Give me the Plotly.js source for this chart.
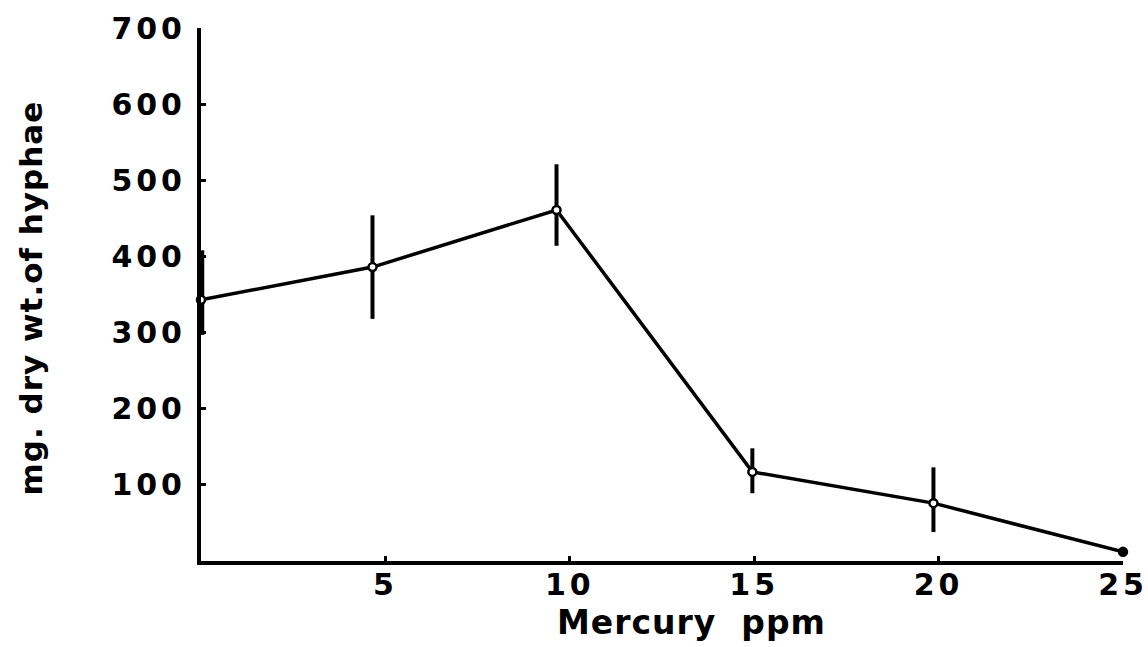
<!DOCTYPE html>
<html>
<head>
<meta charset="utf-8">
<script src="https://cdn.plot.ly/plotly-3.0.1.min.js"></script>
<style>
  html, body { margin: 0; padding: 0; background: #fff; }
  #chart { width: 1148px; height: 647px; }
  .xtick text, .ytick text { letter-spacing: 4px; }
  .annotation-text { letter-spacing: 1px; }
</style>
</head>
<body>
<div id="chart"></div>
<script>
// Mycelial growth against mercury concentration
const mercuryPpm = [0, 4.65, 9.64, 14.95, 19.86, 25];
const dryWeight  = [343, 386, 461, 117, 76, 12];
const errPlus    = [65, 68, 60, 31, 47, 0];
const errMinus   = [46, 68, 47, 28, 38, 0];
const xTickVals  = [5, 10, 15, 20, 25];
const yTickVals  = [100, 200, 300, 400, 500, 600, 700];
const xLabel = 'Mercury  ppm';
const yLabel = 'mg. dry wt.of hyphae';

const ink = '#000';
const font = 'DejaVu Sans, sans-serif';

// the bar at 0 ppm sits on the axis and is drawn heavier
const first = 1;
const traces = [
  {
    x: mercuryPpm.slice(0, first), y: dryWeight.slice(0, first),
    type: 'scatter', mode: 'markers', marker: {size: 1, opacity: 0},
    error_y: {type: 'data', symmetric: false,
      array: errPlus.slice(0, first), arrayminus: errMinus.slice(0, first),
      color: ink, thickness: 6.5, width: 0},
    cliponaxis: false, hoverinfo: 'skip', showlegend: false
  },
  {
    x: mercuryPpm.slice(first), y: dryWeight.slice(first),
    type: 'scatter', mode: 'markers', marker: {size: 1, opacity: 0},
    error_y: {type: 'data', symmetric: false,
      array: errPlus.slice(first), arrayminus: errMinus.slice(first),
      color: ink, thickness: 4, width: 0},
    cliponaxis: false, hoverinfo: 'skip', showlegend: false
  },
  {
    x: mercuryPpm, y: dryWeight,
    type: 'scatter', mode: 'lines+markers',
    line: {color: ink, width: 3.5},
    marker: {
      size: 8, symbol: 'circle',
      color: dryWeight.map((v, i) => i === dryWeight.length - 1 ? ink : '#fff'),
      line: {color: ink, width: 2.5}
    },
    cliponaxis: false, showlegend: false
  }
];

const layout = {
  width: 1148, height: 647,
  margin: {l: 201, r: 25, t: 28, b: 86},
  paper_bgcolor: '#fff', plot_bgcolor: '#fff',
  showlegend: false,
  font: {family: font, color: ink},
  xaxis: {
    range: [0, 25], tickvals: xTickVals, ticktext: xTickVals.map(String),
    showgrid: false, zeroline: false,
    showline: true, linecolor: ink, linewidth: 4,
    ticks: 'inside', ticklen: 5, tickwidth: 3, tickcolor: ink,
    tickfont: {family: font, size: 30, color: ink, weight: 'bold'},
    ticklabelstandoff: -6, ticklabeloverflow: 'allow'
  },
  yaxis: {
    range: [0, 700], tickvals: yTickVals, ticktext: yTickVals.map(String),
    showgrid: false, zeroline: false,
    showline: true, linecolor: ink, linewidth: 4,
    ticks: 'inside', ticklen: 5, tickwidth: 3, tickcolor: ink,
    tickfont: {family: font, size: 30, color: ink, weight: 'bold'},
    ticklabelstandoff: 5
  },
  annotations: [
    {text: xLabel, xref: 'paper', yref: 'paper', x: 0.532, y: -0.116,
     xanchor: 'center', yanchor: 'middle', showarrow: false,
     font: {family: font, size: 33, color: ink, weight: 'bold'}},
    {text: yLabel, xref: 'paper', yref: 'paper', x: -0.184, y: 0.493,
     xanchor: 'center', yanchor: 'middle', showarrow: false, textangle: -90,
     font: {family: font, size: 31, color: ink, weight: 'bold'}}
  ]
};

Plotly.newPlot('chart', traces, layout, {displayModeBar: false, staticPlot: true});
</script>
</body>
</html>
